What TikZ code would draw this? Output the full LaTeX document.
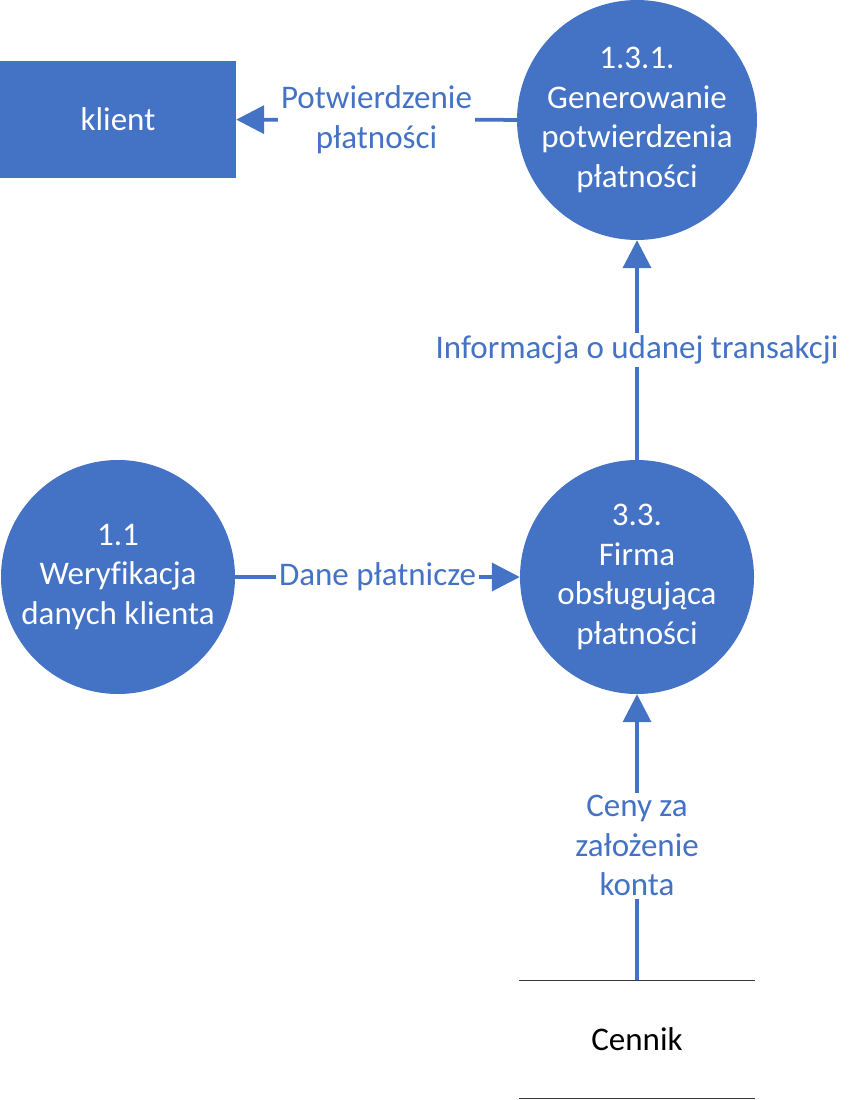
\documentclass[tikz,border=0pt]{standalone}
\usepackage{fontspec}
\setmainfont{Carlito}[Ligatures=NoCommon]
\usetikzlibrary{arrows.meta}
\definecolor{dfdblue}{HTML}{4472C4}
\definecolor{storegrey}{HTML}{3A3A3A}
\newcommand{\dfdfont}{\fontsize{33}{39.5}\selectfont}

\begin{document}
\begin{tikzpicture}[x=1pt,y=-1pt,
    process/.style={circle,fill=dfdblue,text=white,minimum size=234pt,inner sep=0pt,align=center,font=\dfdfont},
    entity/.style={rectangle,fill=dfdblue,text=white,minimum width=236pt,minimum height=117pt,font=\dfdfont},
    store/.style={rectangle,minimum width=236pt,minimum height=118pt,text=black,font=\dfdfont},
    flow/.style={draw=dfdblue,line width=3.75pt,-{Triangle[length=28pt,width=28pt]}},
    flowlabel/.style={fill=white,text=dfdblue,align=center,inner sep=3pt,font=\dfdfont}]
        \useasboundingbox (0,0) rectangle (859,1100);

        \node[entity] (klient) at (118,119.5) {klient};
        \node[process] (generowanie) at (637,120) {1.3.1.\\Generowanie\\potwierdzenia\\płatności};
        \node[process] (weryfikacja) at (118,577) {1.1\\Weryfikacja\\danych klienta};
        \node[process] (firma) at (637,577) {3.3.\\Firma\\obsługująca\\płatności};
        \node[store] (cennik) at (637,1039.5) {Cennik};
        \draw[storegrey,line width=1.2pt] (cennik.north west) -- (cennik.north east)
            (cennik.south west) -- (cennik.south east);

        \draw[flow] (generowanie) -- node[flowlabel] {Potwierdzenie\\płatności} (klient);
        \draw[flow] (weryfikacja) -- node[flowlabel] {Dane płatnicze} (firma);
        \draw[flow] (firma) -- node[flowlabel] {Informacja o udanej transakcji} (generowanie);
        \draw[flow] (cennik.north) -- node[flowlabel,pos=0.47] {Ceny za\\założenie\\konta} (firma);
    \end{tikzpicture}
\end{document}
